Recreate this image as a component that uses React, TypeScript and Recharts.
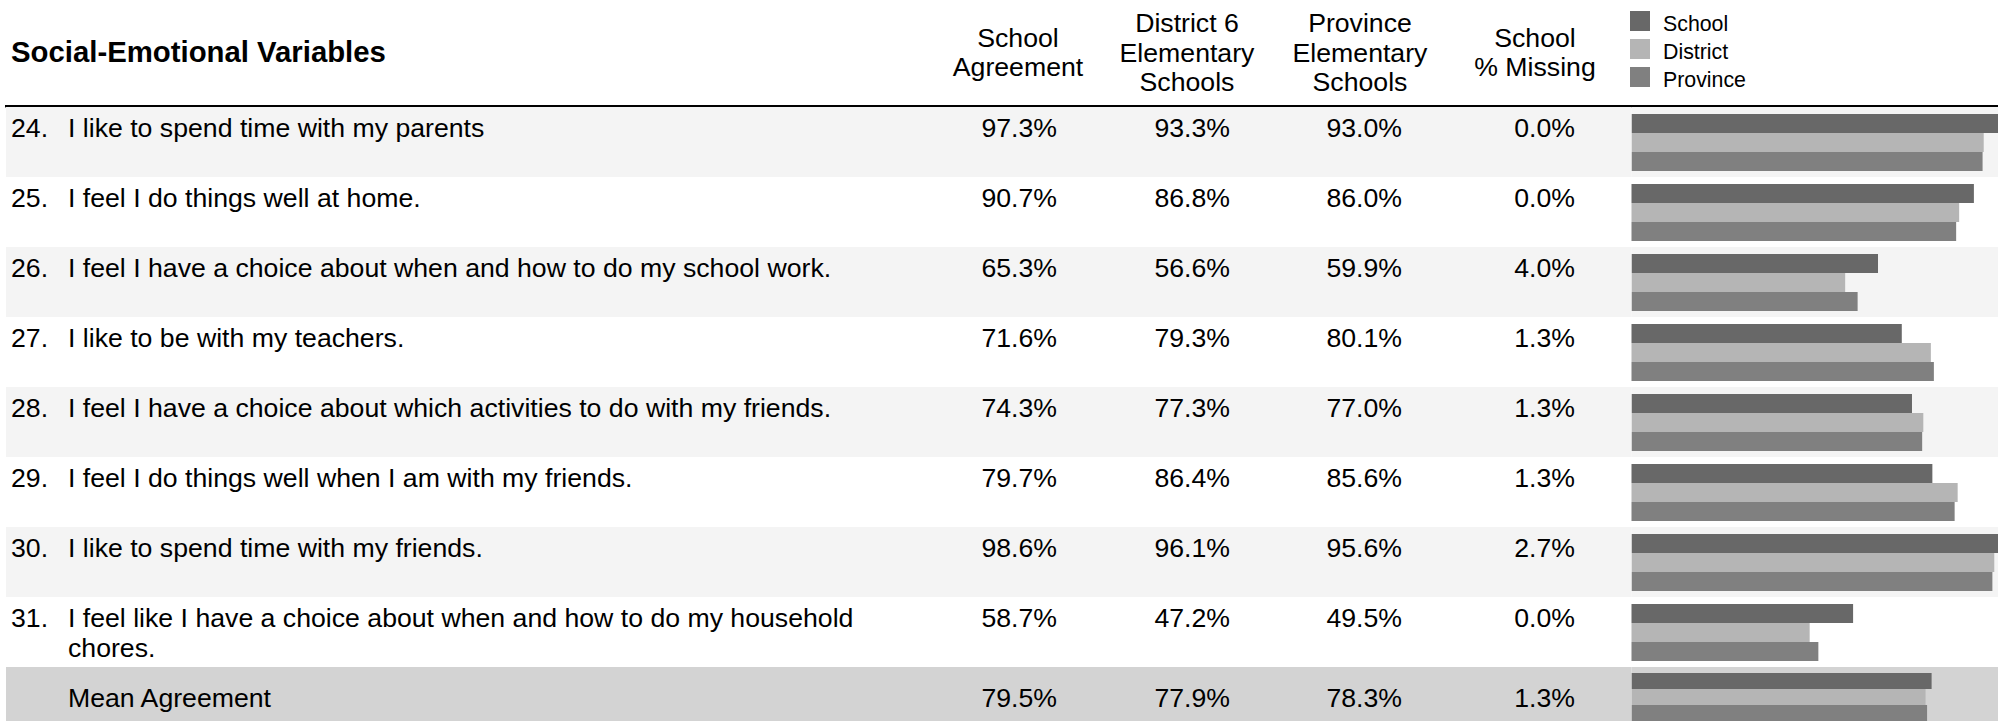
import React from 'react';
import { BarChart, Bar, XAxis, YAxis, ReferenceArea, Legend } from 'recharts';

// ---------- data ----------
const tableTitle = 'Social-Emotional Variables';
const columnHeaders: string[][] = [
  ['School', 'Agreement'],
  ['District 6', 'Elementary', 'Schools'],
  ['Province', 'Elementary', 'Schools'],
  ['School', '% Missing'],
];
const seriesNames = ['School', 'District', 'Province'];
const itemNumbers = ['24.', '25.', '26.', '27.', '28.', '29.', '30.', '31.', ''];
const questions = [
  'I like to spend time with my parents',
  'I feel I do things well at home.',
  'I feel I have a choice about when and how to do my school work.',
  'I like to be with my teachers.',
  'I feel I have a choice about which activities to do with my friends.',
  'I feel I do things well when I am with my friends.',
  'I like to spend time with my friends.',
  'I feel like I have a choice about when and how to do my household\nchores.',
  'Mean Agreement',
];
const schoolAgreement = [97.3, 90.7, 65.3, 71.6, 74.3, 79.7, 98.6, 58.7, 79.5];
const districtAgreement = [93.3, 86.8, 56.6, 79.3, 77.3, 86.4, 96.1, 47.2, 77.9];
const provinceAgreement = [93.0, 86.0, 59.9, 80.1, 77.0, 85.6, 95.6, 49.5, 78.3];
const schoolMissing = [0.0, 0.0, 4.0, 1.3, 1.3, 1.3, 2.7, 0.0, 1.3];

// ---------- table built from the arrays ----------
type Row = {
  key: string;
  num: string;
  text: string;
  school: number;
  district: number;
  province: number;
  missing: number;
  idx: number;
  isMean: boolean;
};
const allRows: Row[] = questions.map((q, i) => ({
  key: 'r' + i,
  num: itemNumbers[i],
  text: q,
  school: schoolAgreement[i],
  district: districtAgreement[i],
  province: provinceAgreement[i],
  missing: schoolMissing[i],
  idx: i,
  isMean: i === questions.length - 1,
}));
const mainRows = allRows.slice(0, allRows.length - 1);
const meanRows = allRows.slice(allRows.length - 1);

// ---------- styles ----------
const FONT = '"Liberation Sans", Arial, Helvetica, sans-serif';
const COLORS: Record<string, string> = { School: '#686868', District: '#b5b5b5', Province: '#808080' };
const STRIPE = '#f4f4f4';
const MEAN_BG = '#d3d3d3';
const CHART_W = 2009;
const AXIS_W = 1631.5;
const VALUE_RIGHT = [1057, 1230, 1402, 1575];
const HEADER_CX = [1018, 1187, 1360, 1535];

const fmt = (v: number) => v.toFixed(1) + '%';

const makeTick = (band: number, rows: Row[]) => (props: any) => {
  const { y, payload } = props;
  const row = rows.find((r) => r.key === payload.value);
  if (!row) return <g />;
  const top = y - band / 2;
  const bg = row.isMean ? MEAN_BG : row.idx % 2 === 0 ? STRIPE : null;
  const baseline = row.isMean ? top + 39.5 : top + 30;
  const lines = row.text.split('\n');
  const vals = [row.school, row.district, row.province, row.missing];
  return (
    <g>
      {bg && <rect x={6} y={top} width={AXIS_W - 6} height={band} fill={bg} />}
      {row.num && (
        <text x={11} y={baseline} fontFamily={FONT} fontSize={26.67} fill="#000">
          {row.num}
        </text>
      )}
      {lines.map((l, k) => (
        <text key={k} x={68} y={baseline + k * 30} fontFamily={FONT} fontSize={26.67} fill="#000">
          {l}
        </text>
      ))}
      {vals.map((v, k) => (
        <text key={'v' + k} x={VALUE_RIGHT[k]} y={baseline} textAnchor="end" fontFamily={FONT} fontSize={26.67} fill="#000">
          {fmt(v)}
        </text>
      ))}
    </g>
  );
};

const renderLegend = (props: any) => {
  const payload: any[] = (props.payload || []).slice();
  payload.sort((a, b) => seriesNames.indexOf(a.value) - seriesNames.indexOf(b.value));
  return (
    <svg width={200} height={90} style={{ display: 'block' }}>
      {payload.map((p, i) => (
        <g key={p.value}>
          <rect x={0} y={i * 28} width={20} height={20} fill={p.color} />
          <text x={33} y={i * 28 + 20} fontFamily={FONT} fontSize={21.33} fill="#000">
            {p.value}
          </text>
        </g>
      ))}
    </svg>
  );
};

export default function App() {
  return (
    <div
      style={{
        position: 'absolute',
        left: 0,
        top: 0,
        width: 1998,
        height: 721,
        overflow: 'hidden',
        background: '#fff',
      }}
    >
      {/* header */}
      <svg width={1998} height={110} style={{ position: 'absolute', left: 0, top: 0 }}>
        <text x={11} y={62} fontFamily={FONT} fontSize={29.33} fontWeight="bold" fill="#000">
          {tableTitle}
        </text>
        {columnHeaders.map((lines, c) => {
          const start = lines.length === 3 ? 32 : 46.5;
          return lines.map((l, k) => (
            <text
              key={c + '-' + k}
              x={HEADER_CX[c]}
              y={start + k * 29.5}
              textAnchor="middle"
              fontFamily={FONT}
              fontSize={26.67}
              fill="#000"
            >
              {l}
            </text>
          ));
        })}
        <rect x={5} y={105} width={1993} height={2.4} fill="#000" />
      </svg>

      {/* question rows */}
      <div style={{ position: 'absolute', left: 0, top: 0 }}>
        <BarChart
          width={CHART_W}
          height={667}
          data={mainRows}
          layout="vertical"
          margin={{ top: 107, right: 0, bottom: 0, left: 0 }}
          barCategoryGap="10%"
          barGap={0}
        >
          <XAxis type="number" domain={[0, 100]} hide />
          <YAxis
            type="category"
            dataKey="key"
            width={AXIS_W}
            axisLine={false}
            tickLine={false}
            interval={0}
            tick={makeTick(70, mainRows)}
          />
          {mainRows
            .filter((r) => r.idx % 2 === 0)
            .map((r) => (
              <ReferenceArea
                key={'bg' + r.key}
                y1={r.key}
                y2={r.key}
                fill={STRIPE}
                fillOpacity={1}
                stroke="none"
                ifOverflow="visible"
              />
            ))}
          <Bar dataKey="school" name={seriesNames[0]} fill={COLORS.School} isAnimationActive={false} />
          <Bar dataKey="district" name={seriesNames[1]} fill={COLORS.District} isAnimationActive={false} />
          <Bar dataKey="province" name={seriesNames[2]} fill={COLORS.Province} isAnimationActive={false} />
          <Legend
            layout="vertical"
            align="center"
            verticalAlign="middle"
            content={renderLegend}
            wrapperStyle={{ position: 'absolute', left: 1630, top: 11, width: 200, height: 90 }}
          />
        </BarChart>
      </div>

      {/* mean row */}
      <div style={{ position: 'absolute', left: 0, top: 667 }}>
        <BarChart
          width={CHART_W}
          height={60}
          data={meanRows}
          layout="vertical"
          margin={{ top: 0, right: 0, bottom: 0, left: 0 }}
          barCategoryGap="10%"
          barGap={0}
        >
          <XAxis type="number" domain={[0, 100]} hide />
          <YAxis
            type="category"
            dataKey="key"
            width={AXIS_W}
            axisLine={false}
            tickLine={false}
            interval={0}
            tick={makeTick(60, meanRows)}
          />
          {meanRows.map((r) => (
            <ReferenceArea
              key={'bg' + r.key}
              y1={r.key}
              y2={r.key}
              fill={MEAN_BG}
              fillOpacity={1}
              stroke="none"
              ifOverflow="visible"
            />
          ))}
          <Bar dataKey="school" name={seriesNames[0]} fill={COLORS.School} isAnimationActive={false} />
          <Bar dataKey="district" name={seriesNames[1]} fill={COLORS.District} isAnimationActive={false} />
          <Bar dataKey="province" name={seriesNames[2]} fill={COLORS.Province} isAnimationActive={false} />
        </BarChart>
      </div>
    </div>
  );
}
